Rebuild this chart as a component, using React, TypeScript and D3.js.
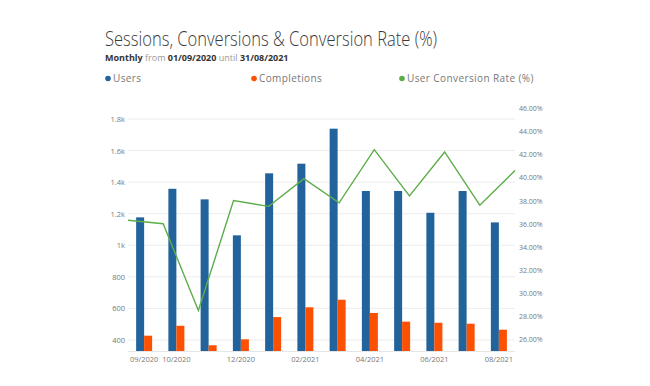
import React from 'react';
import * as d3 from 'd3';

// monthly data
const months = ['09/2020', '10/2020', '11/2020', '12/2020', '01/2021', '02/2021', '03/2021', '04/2021', '05/2021', '06/2021', '07/2021', '08/2021'];
const users = [1177, 1358, 1291, 1063, 1456, 1517, 1739, 1344, 1344, 1206, 1344, 1145];
const completions = [427, 490, 366, 404, 545, 607, 655, 571, 516, 509, 503, 465];
const rate = [36.3, 36.0, 28.5, 38.0, 37.5, 39.9, 37.8, 42.4, 38.4, 42.2, 37.6, 40.6];
const xTickLabels = ['09/2020', '10/2020', '12/2020', '02/2021', '04/2021', '06/2021', '08/2021'];
const leftTicks = [400, 600, 800, 1000, 1200, 1400, 1600, 1800];
const rightTicks = [26, 28, 30, 32, 34, 36, 38, 40, 42, 44, 46];

const BLUE = '#23639b', ORANGE = '#fd5000', GREEN = '#5cae4a';

export default function App() {
    const width = 650, height = 386;
    const margin = { top: 108, right: 135, bottom: 35, left: 128 };
    const x0 = margin.left, x1 = width - margin.right, yb = height - margin.bottom;

    const x = d3.scaleBand().domain(months).range([x0, x1]);
    const xLine = d3.scalePoint().domain(months).range([x0, x1]);
    const y = d3.scaleLinear().domain([330, 1870]).range([yb, margin.top]);
    const yR = d3.scaleLinear().domain([25, 46]).range([yb, margin.top]);
    const barW = 8;

    const line = d3.line<number>()
        .x((d, i) => xLine(months[i]) as number)
        .y(d => yR(d));

    const fmtLeft = (v: number) => v >= 1000 ? d3.format('~')(v / 1000) + 'k' : String(v);
    const font = "'Open Sans', 'DejaVu Sans', sans-serif";

    return (
        <svg width={width} height={height} style={{ position: 'absolute', left: 0, top: 0, background: '#fff' }} fontFamily={font}>
            <text x={105} y={46} fontSize={19.5} fontWeight={300} fill="#3a3a3a" textLength={332} lengthAdjust="spacingAndGlyphs">
                Sessions, Conversions &amp; Conversion Rate (%)
            </text>
            <text x={105} y={61} fontSize={9} fill="#999">
                <tspan fontWeight={700} fill="#333">Monthly</tspan> from <tspan fontWeight={700} fill="#333">01/09/2020</tspan> until <tspan fontWeight={700} fill="#333">31/08/2021</tspan>
            </text>
            {/* legend */}
            {[{ label: 'Users', c: BLUE, lx: 108 }, { label: 'Completions', c: ORANGE, lx: 254 }, { label: 'User Conversion Rate (%)', c: GREEN, lx: 402 }].map(l => (
                <g key={l.label}>
                    <circle cx={l.lx} cy={78.5} r={2.8} fill={l.c} />
                    <text x={l.lx + 5} y={82} fontSize={10} fill="#777" letterSpacing={0.4}>{l.label}</text>
                </g>
            ))}
            {/* gridlines */}
            {leftTicks.map(t => (
                <line key={t} x1={x0} x2={x1} y1={y(t)} y2={y(t)} stroke="#ececec" strokeWidth={1} />
            ))}
            <line x1={x0} x2={x1} y1={yb + 0.5} y2={yb + 0.5} stroke="#e6e6e6" />
            {/* left axis */}
            {leftTicks.map(t => (
                <text key={t} x={125} y={y(t) + 3} fontSize={7.5} fill="#777" textAnchor="end">{fmtLeft(t)}</text>
            ))}
            {/* right axis */}
            {rightTicks.map(t => (
                <text key={t} x={519} y={yR(t) + 3} fontSize={7} fill="#777">{t.toFixed(2)}%</text>
            ))}
            {/* bars */}
            {months.map((m, i) => {
                const c = (x(m) as number) + x.bandwidth() / 2;
                return (
                    <g key={m}>
                        <rect x={c - barW} y={y(users[i])} width={barW} height={yb - y(users[i])} fill={BLUE} />
                        <rect x={c} y={y(completions[i])} width={barW} height={yb - y(completions[i])} fill={ORANGE} />
                    </g>
                );
            })}
            <path d={line(rate) || ''} fill="none" stroke={GREEN} strokeWidth={1.4} />
            {/* x labels */}
            {xTickLabels.map(m => (
                <text key={m} x={(x(m) as number) + x.bandwidth() / 2} y={362} fontSize={7.5} fill="#777" textAnchor="middle">{m}</text>
            ))}
        </svg>
    );
}
